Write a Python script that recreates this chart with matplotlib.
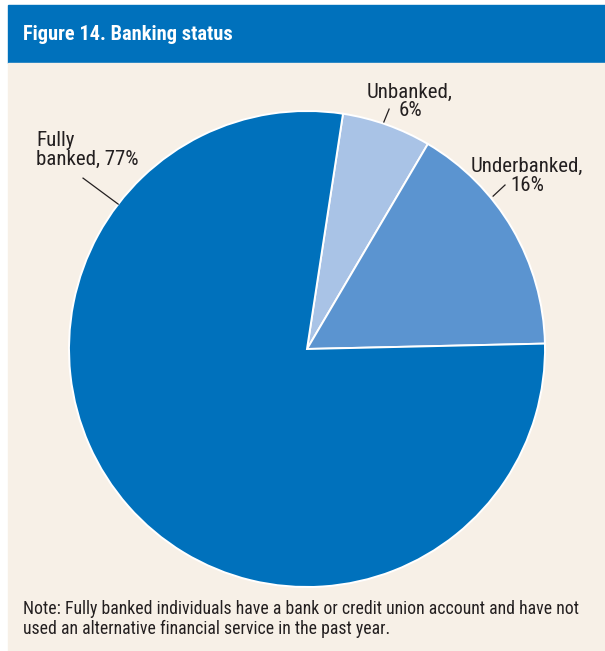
import matplotlib
matplotlib.use("Agg")
import matplotlib.pyplot as plt
import numpy as np
from matplotlib.patches import Rectangle

# Data
categories = ["Unbanked", "Underbanked", "Fully banked"]
shares = [6, 16, 77]
labels = ["Unbanked,\n6%", "Underbanked,\n16%", "Fully\nbanked, 77%"]
title = "Figure 14. Banking status"
note_lines = [
    "Note: Fully banked individuals have a bank or credit union account and have not",
    "used an alternative financial service in the past year.",
]

colors = ["#a9c3e6", "#5b94d0", "#0071bc"]
header_blue = "#0071bc"
panel_bg = "#f7f0e7"
text_color = "#231f20"
fam = ["Liberation Sans Narrow", "Roboto Condensed", "Liberation Sans", "DejaVu Sans"]

W, H = 605, 651
fig = plt.figure(figsize=(W / 100, H / 100), dpi=100, facecolor="white")

def fx(px):
    return px / W

def fy(py):
    return 1 - py / H

# Header band and panel background
fig.patches.append(Rectangle((fx(7.5), fy(63)), 1 - fx(7.5), fy(5) - fy(63),
                             transform=fig.transFigure, color=header_blue, zorder=-2))
fig.patches.append(Rectangle((fx(7.5), 0), 1 - fx(7.5), fy(63),
                             transform=fig.transFigure, color=panel_bg, zorder=-2))
fig.text(fx(23), fy(40), title, color="white", fontsize=14.7, fontweight="bold",
         family=fam, va="baseline", ha="left")

# Pie
cx, cy, r = 307, 349, 238
ax = fig.add_axes([fx(cx - r), fy(cy + r), 2 * r / W, 2 * r / H])
ax.set_zorder(1)
ax.set_facecolor("none")
wedges, _ = ax.pie(shares, colors=colors, startangle=81.3, counterclock=False,
                   radius=1.0, wedgeprops=dict(edgecolor="white", linewidth=1.4))
ax.set_xlim(-1, 1)
ax.set_ylim(-1, 1)
ax.set_aspect("equal")
ax.axis("off")

# Labels with short leader lines (text position, line start, anchor angle on rim)
label_pos = [(0.433, 1.040, "center"), (0.924, 0.727, "center"), (-1.139, 0.835, "left")]
line_start = [(0.345, 1.008), (0.832, 0.689), (-0.941, 0.718)]
anchor_deg = [71.3, 39.4, 142.5]
anchor_r = [1.007, 1.012, 1.0]

for lab, (tx, ty, ha), (sx, sy), a, rr in zip(labels, label_pos, line_start, anchor_deg, anchor_r):
    th = np.deg2rad(a)
    ax.plot([sx, rr * np.cos(th)], [sy, rr * np.sin(th)], color=text_color,
            lw=0.9, clip_on=False)
    ax.text(tx, ty, lab, ha=ha, va="center", multialignment=ha,
            fontsize=15, color=text_color, family=fam, linespacing=1.0,
            clip_on=False)

# Footnote
for i, line in enumerate(note_lines):
    fig.text(fx(23), fy(614 + 20 * i), line, fontsize=12.8, color=text_color,
             family=fam, va="baseline", ha="left")

fig.savefig("out.png", dpi=100, facecolor="white")
